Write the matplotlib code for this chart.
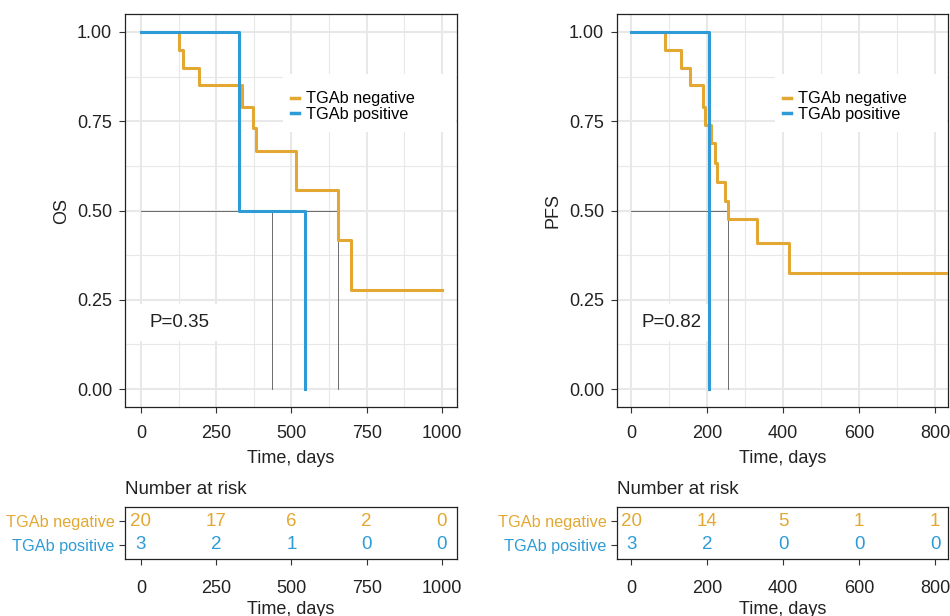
import matplotlib.pyplot as plt
from matplotlib.lines import Line2D
from matplotlib.patches import Rectangle
from matplotlib.ticker import MultipleLocator

plt.rcParams['font.family'] = ['Liberation Sans', 'DejaVu Sans']

ORANGE = '#E2A832'
BLUE = '#2E9BD6'
GRID = '#E8E8E8'
DARK = '#222222'

groups = ['TGAb negative', 'TGAb positive']

# overall survival
os_neg_t = [0, 127, 140, 193, 337, 371, 382, 514, 653, 698, 999]
os_neg_s = [1.0, 0.95, 0.90, 0.85, 0.79, 0.73, 0.667, 0.556, 0.417, 0.278, 0.278]
os_pos_t = [0, 326, 545]
os_pos_s = [1.0, 0.5, 0.0]
os_medians = [436, 653]
os_ticks = [0, 250, 500, 750, 1000]
os_risk_neg = [20, 17, 6, 2, 0]
os_risk_pos = [3, 2, 1, 0, 0]

# progression free survival
pfs_neg_t = [0, 88, 131, 155, 190, 195, 210, 221, 227, 246, 256, 332, 416, 870]
pfs_neg_s = [1.0, 0.95, 0.90, 0.85, 0.79, 0.74, 0.688, 0.634, 0.581, 0.527, 0.475, 0.408, 0.324, 0.324]
pfs_pos_t = [0, 205]
pfs_pos_s = [1.0, 0.0]
pfs_medians = [205, 256]
pfs_ticks = [0, 200, 400, 600, 800]
pfs_risk_neg = [20, 14, 5, 1, 1]
pfs_risk_pos = [3, 2, 0, 0, 0]

W, H = 950, 616
fig = plt.figure(figsize=(W / 100, H / 100), dpi=100)


def px_rect(x0, y0, x1, y1):
    return [x0 / W, 1 - y1 / H, (x1 - x0) / W, (y1 - y0) / H]


def style_axis(ax):
    for sp in ax.spines.values():
        sp.set_color(DARK)
        sp.set_linewidth(0.9)
    ax.tick_params(axis='both', which='major', length=4.3, width=0.8, color='#333333',
                   labelsize=13, labelcolor=DARK, pad=5)
    ax.tick_params(axis='both', which='minor', length=0)


def panel(x0, x1, ylab, xlim, ticks, minor, neg_t, neg_s, pos_t, pos_s, medians, ptext,
          risk_neg, risk_pos):
    ax = fig.add_axes(px_rect(x0, 14, x1, 407))
    ax.set_axisbelow(True)
    ax.xaxis.set_minor_locator(MultipleLocator(minor))
    ax.yaxis.set_minor_locator(MultipleLocator(0.125))
    ax.grid(True, which='major', color=GRID, lw=1.5)
    ax.grid(True, which='minor', color=GRID, lw=0.8)

    # median lines
    ax.plot([0, max(medians)], [0.5, 0.5], color='#555555', lw=0.6, zorder=2)
    for m in medians:
        ax.plot([m, m], [0, 0.5], color='#555555', lw=0.6, zorder=2)

    ax.step(neg_t, neg_s, where='post', color=ORANGE, lw=2.2, zorder=3)
    ax.step(pos_t, pos_s, where='post', color=BLUE, lw=2.2, zorder=3)

    ax.set_xlim(*xlim)
    ax.set_ylim(-0.05, 1.05)
    ax.set_xticks(ticks)
    ax.set_yticks([0, 0.25, 0.5, 0.75, 1.0])
    ax.set_yticklabels(['0.00', '0.25', '0.50', '0.75', '1.00'])
    style_axis(ax)
    ax.tick_params(axis='x', which='major', pad=8.5)
    ax.set_xlabel('Time, days', fontsize=13, color=DARK, labelpad=6)
    ax.set_ylabel(ylab, fontsize=13, color=DARK, labelpad=5)

    # legend on a white key box
    ax.add_patch(Rectangle((0.476, 0.70), 0.52, 0.147, transform=ax.transAxes,
                           facecolor='white', edgecolor='none', zorder=1))
    handles = [Line2D([], [], color=ORANGE, lw=2.5), Line2D([], [], color=BLUE, lw=2.5)]
    ax.legend(handles, groups, loc='center left', bbox_to_anchor=(0.5, 0.765),
              frameon=False, fontsize=11.7, handlelength=0.5, handletextpad=0.45,
              labelspacing=0.02, borderpad=0, borderaxespad=0)

    ax.text(0.075, 0.215, ptext, transform=ax.transAxes, ha='left', va='center',
            fontsize=13.5, color=DARK, zorder=1,
            bbox=dict(facecolor='white', edgecolor='none', pad=7))

    # risk table
    rt = fig.add_axes(px_rect(x0, 507, x1, 559))
    rt.set_xlim(*xlim)
    rt.set_ylim(0.38, 2.62)
    for t, n in zip(ticks, risk_neg):
        rt.text(t, 2, str(n), ha='center', va='center', fontsize=13.5, color=ORANGE)
    for t, n in zip(ticks, risk_pos):
        rt.text(t, 1, str(n), ha='center', va='center', fontsize=13.5, color=BLUE)
    rt.set_xticks(ticks)
    rt.set_yticks([2, 1])
    rt.set_yticklabels(groups)
    style_axis(rt)
    rt.tick_params(axis='y', labelsize=11.7, pad=3)
    rt.tick_params(axis='x', pad=10.5)
    for lab, c in zip(rt.get_yticklabels(), [ORANGE, BLUE]):
        lab.set_color(c)
    rt.set_xlabel('Time, days', fontsize=13, color=DARK, labelpad=3)
    rt.set_title('Number at risk', loc='left', fontsize=13.5, color=DARK, pad=9)
    return ax, rt


panel(125, 457, 'OS', (-53, 1050), os_ticks, 125, os_neg_t, os_neg_s, os_pos_t, os_pos_s,
      os_medians, 'P=0.35', os_risk_neg, os_risk_pos)
panel(617, 948, 'PFS', (-37, 834), pfs_ticks, 100, pfs_neg_t, pfs_neg_s, pfs_pos_t, pfs_pos_s,
      pfs_medians, 'P=0.82', pfs_risk_neg, pfs_risk_pos)

fig.savefig('out.png', dpi=100)
